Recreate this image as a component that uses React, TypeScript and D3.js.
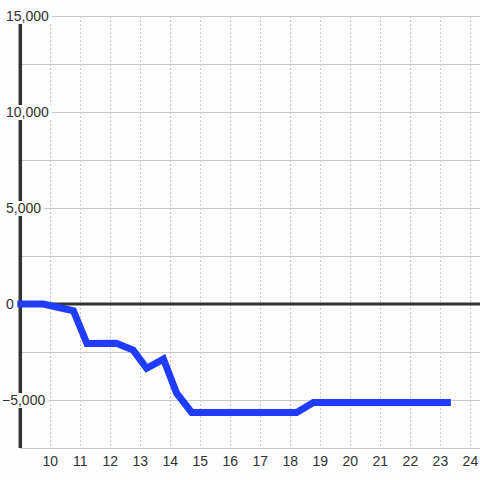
import React, { useEffect, useRef } from "react";
import * as d3 from "d3";

const xValues = [8.9, 9.77, 10.77, 11.22, 12.2, 12.76, 13.21, 13.77, 14.21, 14.71, 18.21, 18.77, 23.35];
const yValues = [0, 0, -350, -2060, -2040, -2400, -3350, -2870, -4650, -5650, -5650, -5130, -5130];
const xTicks = [10, 11, 12, 13, 14, 15, 16, 17, 18, 19, 20, 21, 22, 23, 24];
const yTicks = [-7500, -5000, -2500, 0, 2500, 5000, 7500, 10000, 12500, 15000];
const yLabelTicks = [-5000, 0, 5000, 10000, 15000];

const W = 480;
const H = 480;
const BG = "#fcfdfc";

export default function App() {
  const ref = useRef<SVGSVGElement>(null);

  useEffect(() => {
    const svg = d3.select(ref.current);
    svg.selectAll("*").remove();

    const x = d3.scaleLinear().domain([9, 24.32]).range([20.3, 480]);
    const y = d3.scaleLinear().domain([-7500, 15000]).range([448, 16]);

    svg.append("rect").attr("width", W).attr("height", H).attr("fill", BG);

    // horizontal gridlines
    svg
      .append("g")
      .selectAll("line")
      .data(yTicks)
      .join("line")
      .attr("x1", x(9))
      .attr("x2", W)
      .attr("y1", (d) => Math.round(y(d)) + 0.5)
      .attr("y2", (d) => Math.round(y(d)) + 0.5)
      .attr("stroke", "#c8c8c8")
      .attr("stroke-width", 1);

    // vertical gridlines
    svg
      .append("g")
      .selectAll("line")
      .data(xTicks)
      .join("line")
      .attr("x1", (d) => Math.round(x(d)) + 0.5)
      .attr("x2", (d) => Math.round(x(d)) + 0.5)
      .attr("y1", y(15000))
      .attr("y2", y(-7500))
      .attr("stroke", "#c8c8c8")
      .attr("stroke-width", 1)
      .attr("stroke-dasharray", "2,2");

    // zero line
    svg
      .append("line")
      .attr("x1", x(9))
      .attr("x2", W)
      .attr("y1", y(0))
      .attr("y2", y(0))
      .attr("stroke", "#333")
      .attr("stroke-width", 3);

    // y axis line
    svg
      .append("line")
      .attr("x1", x(9))
      .attr("x2", x(9))
      .attr("y1", y(15000))
      .attr("y2", y(-7500))
      .attr("stroke", "#333")
      .attr("stroke-width", 3.5);

    // data line
    const line = d3
      .line<number>()
      .x((_, i) => x(xValues[i]))
      .y((d) => y(d));
    svg
      .append("path")
      .attr("d", line(yValues))
      .attr("fill", "none")
      .attr("stroke", "#1f3cff")
      .attr("stroke-width", 7)
      .attr("stroke-linejoin", "miter")
      .attr("stroke-linecap", "butt");

    const fmt = d3.format(",");

    // y labels with background
    const yl = svg.append("g").attr("font-family", "'Liberation Sans', Arial, sans-serif").attr("font-size", 14);
    yLabelTicks.forEach((d) => {
      const g = yl.append("g");
      const rect = g.append("rect").attr("fill", BG);
      const t = g
        .append("text")
        .attr("x", d < 0 ? 2 : 6)
        .attr("y", y(d) + 5)
        .attr("fill", "#333")
        .text(fmt(d));
      const bb = (t.node() as SVGTextElement).getBBox();
      rect
        .attr("x", bb.x - 1)
        .attr("y", y(d) - 7)
        .attr("width", bb.width + 4)
        .attr("height", 15);
    });

    // x labels
    svg
      .append("g")
      .attr("font-family", "'Liberation Sans', Arial, sans-serif")
      .attr("font-size", 14)
      .selectAll("text")
      .data(xTicks)
      .join("text")
      .attr("x", (d) => x(d))
      .attr("y", 466)
      .attr("text-anchor", "middle")
      .attr("fill", "#333")
      .text((d) => String(d));
  }, []);

  return (
    <svg
      ref={ref}
      width={W}
      height={H}
      style={{ position: "absolute", left: 0, top: 0, display: "block" }}
    />
  );
}
